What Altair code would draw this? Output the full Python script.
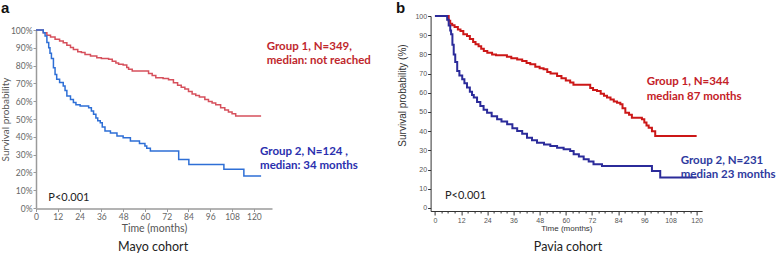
import altair as alt
import pandas as pd

# ---------------- data ----------------
# Panel a: Mayo cohort (months, survival %)
mayo_g1_time = [0, 4, 6, 8, 10.5, 13, 15, 17, 19, 20.6,
                23, 25, 27, 30, 33.5, 36, 40, 42, 44, 45.5,
                48, 50, 51, 53, 62, 64, 66, 70, 73, 75.7,
                78, 80, 82, 84, 86, 88, 90, 93, 95, 97,
                99, 101.7, 104, 106, 108, 110, 124]
mayo_g1_surv = [100, 98.5, 97, 96, 94.8, 93.8, 92.9, 91.5, 90.2, 89.1,
                87.8, 87.3, 86.3, 85.4, 84.4, 84, 83.5, 82.5, 81.5, 80.7,
                80.3, 79, 77.9, 77, 75.5, 74.5, 73.2, 72.8, 72, 70.4,
                69, 67.8, 66.8, 65.5, 64, 63.2, 62.3, 61, 59.8, 59,
                58, 56.3, 55, 54, 53, 51.7, 51.7]
mayo_g2_time = [0, 4, 5, 6, 7, 7.7, 8.5, 9.6, 10.5, 11.4,
                13, 15, 16, 17, 19, 20.6, 22, 24.3, 29, 30.5,
                31.7, 33, 34, 35.4, 36.5, 38, 41, 44.6, 48, 52,
                57, 60, 61, 63, 78.6, 84.2, 103.5, 114.5, 124]
mayo_g2_surv = [100, 98.5, 96.6, 93, 90, 87, 84, 78.8, 75, 72.3,
                70.5, 68.5, 66, 62.9, 61, 59.2, 58, 57.3, 56.3, 54.5,
                52.6, 50.5, 49, 47.9, 45.5, 43.3, 42.2, 40.4, 39.5, 37.6,
                36.3, 34.8, 33.5, 32, 27.3, 24.5, 21.7, 18, 18]

# Panel b: Pavia cohort (months, survival %)
pavia_g1_time = [0, 6.3, 7, 7.9, 9, 10.5, 11.7, 13, 14.7, 16,
                 17.5, 18.6, 20, 21.2, 22.4, 24, 26.2, 28, 31.5, 33,
                 35, 37.7, 40, 42, 43.7, 46, 48, 49.8, 51.5, 53,
                 56, 58, 60, 62, 63.5, 71.2, 72.5, 74.3, 76, 77.5,
                 78.9, 80.5, 82, 83.5, 85, 86, 87.3, 89, 90.3, 94.9,
                 96, 97, 98, 99.5, 101, 120]
pavia_g1_surv = [100, 97.5, 96, 95.2, 94.3, 93, 92.2, 90.5, 89.6, 88,
                 86.5, 85.3, 84.3, 83, 81.8, 80.8, 80, 79.6, 79.5, 78.8,
                 78, 77.4, 76.6, 75.5, 74.8, 73.6, 72.8, 72.2, 70.8, 70,
                 68.8, 67.6, 66.4, 65.3, 64.2, 62.5, 61.5, 60.9, 59.5, 58.5,
                 57.5, 56.5, 55.5, 54.8, 54, 52, 49.6, 48.5, 47, 46.2,
                 44.5, 43, 41.8, 40, 37.5, 37.5]
pavia_g2_time = [0, 5.6, 6.3, 7, 7.4, 8, 8.6, 9.3, 10.2, 11.2,
                 12.5, 13.5, 14.7, 16, 17, 17.8, 19.3, 20.8, 22.3, 23.9,
                 26, 28.5, 30.5, 33.1, 35.5, 37.7, 40, 42.2, 44.5, 46.8,
                 50, 52.9, 56, 59, 62, 63.6, 66, 68.2, 70.5, 72.7,
                 76.6, 99.5, 103.3, 120]
pavia_g2_surv = [100, 98, 95, 92.5, 90.5, 85, 80, 76, 71.4, 69,
                 67, 65, 62.7, 60.5, 58.8, 57.5, 55.2, 53.1, 51.2, 49.6,
                 47.8, 46.2, 45, 43.6, 41.5, 40.1, 38.6, 36.6, 35.2, 34,
                 33, 32.3, 31.3, 30.6, 29.7, 28, 26.8, 25.4, 24.2, 22.7,
                 21.9, 19.3, 15.8, 15.8]

groups = ["Group 1", "Group 2"]
x_ticks = list(range(0, 121, 12))
x_minor_ticks = list(range(0, 121, 3))
y_ticks = list(range(0, 101, 10))

mayo_g1_text = ["Group 1, N=349,", "median: not reached"]
mayo_g2_text = ["Group 2, N=124 ,", "median:  34 months"]
pavia_g1_text = ["Group 1, N=344", "median 87 months"]
pavia_g2_text = ["Group 2, N=231", "median 23 months"]
p_text = ["P<0.001"]
mayo_title = ["Mayo cohort"]
pavia_title = ["Pavia cohort"]
panel_letters = ["a", "b"]


def curves(t1, s1, t2, s2):
    return pd.concat([
        pd.DataFrame({"t": t1, "s": s1, "grp": groups[0]}),
        pd.DataFrame({"t": t2, "s": s2, "grp": groups[1]}),
    ], ignore_index=True)


def text_df(x, ys, lines):
    return pd.DataFrame({"t": [x] * len(lines), "s": ys, "txt": lines})


def txt(df, xenc, yenc, **kw):
    return alt.Chart(df).mark_text(**kw).encode(x=xenc, y=yenc, text="txt:N")


CAL = "Lato"
ARIAL = "Liberation Sans"

# ---------------- panel a ----------------
A_W, A_H = 236, 192.5
ax_x = alt.X("t:Q", scale=alt.Scale(domain=[0, 130], nice=False, zero=False),
             axis=alt.Axis(values=x_ticks, title="Time (months)", grid=False,
                           labelFont=CAL, labelFontSize=8.5, labelColor="#666666",
                           labelPadding=1, labelFlush=False, labelOverlap=False,
                           tickSize=3, tickColor="#9a9a9a", domainColor="#9a9a9a",
                           domainWidth=1.5, titleFont=CAL, titleFontSize=10.5,
                           titleFontWeight="normal", titleColor="#555555", titlePadding=2))
ax_y = alt.Y("s:Q", scale=alt.Scale(domain=[0, 100], range=[192, 14], nice=False, zero=False),
             axis=alt.Axis(values=y_ticks, labelExpr="datum.value + '%'", grid=False,
                           title="Survival probability", labelFont=CAL, labelFontSize=8.5,
                           labelColor="#666666", labelPadding=1, tickSize=3,
                           tickColor="#9a9a9a", domainColor="#9a9a9a", domainWidth=1.5,
                           titleFont=CAL, titleFontSize=10, titleFontWeight="normal",
                           titleColor="#555555", titleX=-26))

mayo = curves(mayo_g1_time, mayo_g1_surv, mayo_g2_time, mayo_g2_surv)
a_lines = alt.Chart(mayo).mark_line(interpolate="step-after", strokeWidth=1.5).encode(
    x=ax_x, y=ax_y,
    color=alt.Color("grp:N", scale=alt.Scale(domain=groups, range=["#d6505c", "#2e6fd6"]),
                    legend=None),
)

a_layers = [
    a_lines,
    txt(text_df(127.1, [90.4, 82.6], mayo_g1_text), ax_x, ax_y, align="left",
        font=CAL, fontSize=11.5, fontWeight="bold", color="#c0282d"),
    txt(text_df(123.4, [31.5, 23.6], mayo_g2_text), ax_x, ax_y, align="left",
        font=CAL, fontSize=11.5, fontWeight="bold", color="#2a2fae"),
    txt(text_df(6.8, [5.6], p_text), ax_x, ax_y, align="left",
        font=CAL, fontSize=11, color="#222222"),
    txt(text_df(64.5, [-21.8], mayo_title), ax_x, ax_y, align="center",
        font=CAL, fontSize=12.5, color="#222222"),
    txt(text_df(-19.28, [112.4], panel_letters[:1]), ax_x, ax_y, align="left",
        font=ARIAL, fontSize=15, fontWeight="bold", color="#111111"),
]
panel_a = alt.layer(*a_layers).properties(width=A_W, height=A_H)

# ---------------- panel b ----------------
B_W, B_H = 271.5, 195
bx = alt.X("t:Q", scale=alt.Scale(domain=[-2, 122.5], nice=False, zero=False),
           axis=alt.Axis(values=x_minor_ticks,
                         labelExpr="datum.value % 12 === 0 ? datum.label : ''",
                         title="Time (months)", grid=False, labelFont=ARIAL, labelFontSize=7,
                         labelColor="#555555", labelPadding=1, labelFlush=False,
                         labelOverlap=False,
                         tickSize={"condition": {"test": "datum.value % 12 === 0", "value": 4},
                                   "value": 2},
                         tickColor="#333333", domainColor="#333333", domainWidth=1,
                         titleFont=ARIAL, titleFontSize=8, titleFontWeight="normal",
                         titleColor="#333333", titlePadding=1))
by = alt.Y("s:Q", scale=alt.Scale(domain=[-1.6, 100], nice=False, zero=False),
           axis=alt.Axis(values=y_ticks, title="Survival probability (%)", grid=False,
                         labelFont=ARIAL, labelFontSize=7, labelColor="#555555",
                         labelPadding=1, tickSize=3, tickColor="#333333",
                         domainColor="#333333", domainWidth=1, titleFont=ARIAL,
                         titleFontSize=10, titleFontWeight="normal", titleColor="#333333",
                         titlePadding=7, titleY=79))

pavia = curves(pavia_g1_time, pavia_g1_surv, pavia_g2_time, pavia_g2_surv)
b_lines = alt.Chart(pavia).mark_line(interpolate="step-after", strokeWidth=2).encode(
    x=bx, y=by,
    color=alt.Color("grp:N", scale=alt.Scale(domain=groups, range=["#cc1717", "#2b2b9a"]),
                    legend=None),
)

b_layers = [
    b_lines,
    txt(text_df(97.1, [65.6, 57.8], pavia_g1_text), bx, by, align="left",
        font=CAL, fontSize=11.5, fontWeight="bold", color="#c42127"),
    txt(text_df(112.7, [24.7, 17.1], pavia_g2_text), bx, by, align="left",
        font=CAL, fontSize=11.5, fontWeight="bold", color="#2e3a9e"),
    txt(text_df(4.6, [6.2], p_text), bx, by, align="left",
        font=CAL, fontSize=11, color="#222222"),
    txt(text_df(61, [-20.5], pavia_title), bx, by, align="center",
        font=CAL, fontSize=12.5, color="#222222"),
    txt(text_df(-17.86, [104.17], panel_letters[1:]), bx, by, align="left",
        font=ARIAL, fontSize=15, fontWeight="bold", color="#111111"),
]
panel_b = alt.layer(*b_layers).properties(width=B_W, height=B_H)

chart = alt.hconcat(panel_a, panel_b, spacing=158.6, bounds="flush").resolve_scale(
    color="independent"
).properties(
    padding={"left": 0, "top": 0, "right": 0, "bottom": 0},
    background="white",
).configure_view(strokeWidth=0)

chart.save("out.html", embed_options={"renderer": "svg", "actions": False})
